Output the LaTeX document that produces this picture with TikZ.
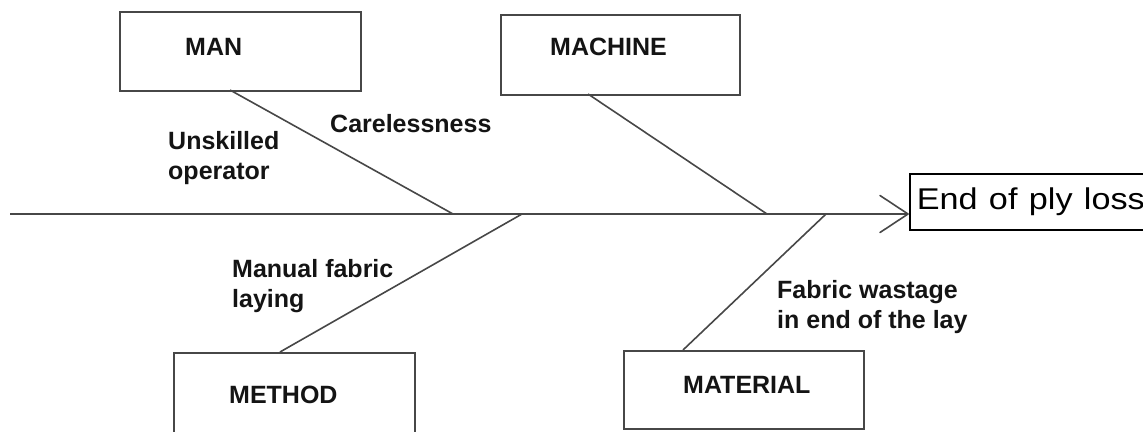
\documentclass[tikz,border=0pt]{standalone}
\usepackage{fontspec}
\setmainfont{Liberation Sans}
\begin{document}
\begin{tikzpicture}[x=1pt,y=-1pt,
  ln/.style={draw=black!72,line width=1.6pt},
  catbox/.style={ln,fill=white,rectangle,inner sep=0pt,anchor=north west},
  lbl/.style={font=\bfseries\fontsize{25}{30}\selectfont,text=black!92,anchor=base west,inner sep=0pt},
  effbox/.style={draw=black,line width=1.5pt,rectangle,anchor=west,inner xsep=7pt,inner ysep=0pt,
    text width=240pt,align=left,minimum height=56pt,font=\fontsize{30}{34}\selectfont}]
\useasboundingbox (0,0) rectangle (1143,431);
\clip (0,0) rectangle (1143,431);
% spine
\coordinate (start) at (10,214);
\coordinate (tip) at (908,214);
\coordinate (armtop) at (880,195.5);
\coordinate (armbot) at (880,232.5);
\draw[ln] (start) -- (tip);
\draw[ln,line cap=round,line join=round] (armtop) -- (tip) -- (armbot);
% effect
\node[effbox] (effect) at (909,202) {\scalebox{1.14}[1]{End of ply loss}};
% category boxes
\node[catbox,minimum width=241pt,minimum height=79pt] (manbox) at (119,11) {};
\node[catbox,minimum width=239pt,minimum height=80pt] (machbox) at (500,14) {};
\node[catbox,minimum width=241pt,minimum height=100pt] (methbox) at (173,352) {};
\node[catbox,minimum width=240pt,minimum height=78pt] (matbox) at (623,350) {};
% category labels
\node[lbl] (man) at (185,55) {MAN};
\node[lbl] (machine) at (550,55) {MACHINE};
\node[lbl] (method) at (229,403) {METHOD};
\node[lbl] (material) at (683,393) {MATERIAL};
% branch joints
\coordinate (jman) at (453,214);
\coordinate (jmeth) at (522,214);
\coordinate (jmach) at (767,214);
\coordinate (jmat) at (826,214);
\coordinate (fman) at (230,90);
\coordinate (fmach) at (588,94);
\coordinate (fmeth) at (280,352);
\coordinate (fmat) at (683,350);
\draw[ln] (fman) -- (jman);
\draw[ln] (fmach) -- (jmach);
\draw[ln] (fmeth) -- (jmeth);
\draw[ln] (fmat) -- (jmat);
% cause labels
\node[lbl] (care) at (330,132) {Carelessness};
\node[lbl] (unsk1) at (168,149) {Unskilled};
\node[lbl] (unsk2) at (168,179) {operator};
\node[lbl] (manu1) at (232,277) {Manual fabric};
\node[lbl] (manu2) at (232,307) {laying};
\node[lbl] (fab1) at (777,298) {Fabric wastage};
\node[lbl] (fab2) at (777,328) {in end of the lay};
\end{tikzpicture}
\end{document}
